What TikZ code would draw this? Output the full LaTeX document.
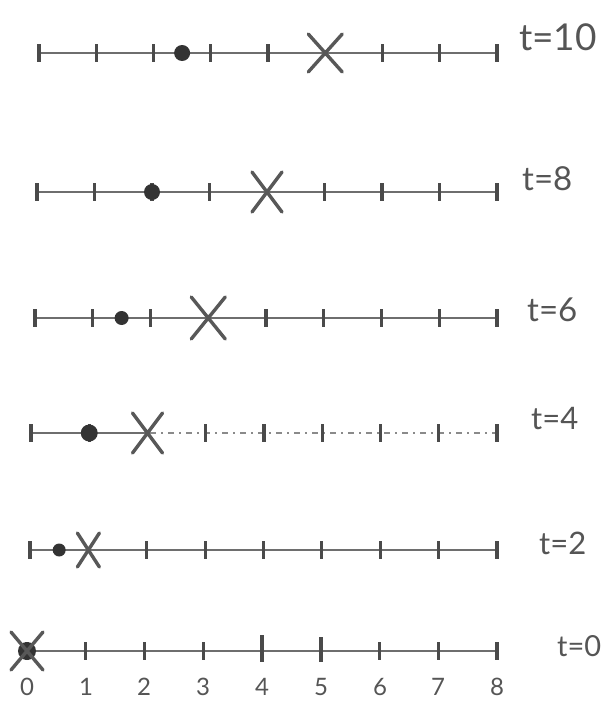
\documentclass[tikz,border=0pt]{standalone}
\usepackage{fontspec}
\setmainfont{Lato}
\definecolor{inkline}{HTML}{6E6E6E}
\definecolor{inkfaint}{HTML}{8A8A8A}
\definecolor{inktick}{HTML}{4A4A4A}
\definecolor{inkx}{HTML}{585858}
\definecolor{inkdot}{HTML}{333333}
\definecolor{inktext}{HTML}{555555}
\newcommand\rowmarks[8]{% #1 y, #2 x0, #3 dot u, #4 X u, #5 skipped tick, #6 X half w, #7 X half h, #8 dot radius
  \pgfmathsetmacro\rsp{(497-#2)/8}
  \foreach \u in {0,...,8}{\ifnum\u=#5\relax\else
    \draw[tickmark] ({#2+\u*\rsp},#1-9) -- ({#2+\u*\rsp},#1+9);\fi}
  \fill[ball] ({#2+#3*\rsp},#1) circle (#8);
  \draw[cross] ({#2+#4*\rsp-#6},#1-#7) -- ({#2+#4*\rsp+#6},#1+#7)
               ({#2+#4*\rsp-#6},#1+#7) -- ({#2+#4*\rsp+#6},#1-#7);
}
\begin{document}
\begin{tikzpicture}[x=1pt,y=-1pt,
  axisline/.style={draw=inkline,line width=1.4pt},
  faintline/.style={draw=inkfaint,line width=1.2pt,dash pattern=on 6pt off 5pt on 2pt off 5pt},
  tickmark/.style={draw=inktick,line width=3.2pt},
  cross/.style={draw=inkx,line width=3.4pt,line cap=round},
  ball/.style={fill=inkdot},
  tlabel/.style={text=inktext,anchor=base west,inner sep=0pt},
  numlabel/.style={text=inktext,anchor=base,inner sep=0pt,font=\fontsize{24}{24}\selectfont}]
\useasboundingbox (0,0) rectangle (614,702);

% t = 10
\draw[axisline] (39,53) -- (497,53);
\rowmarks{53}{39}{2.5}{5}{5}{17}{19}{8}
\node[tlabel,font=\fontsize{37}{37}\selectfont] (l10) at (519,50) {t=10};

% t = 8
\draw[axisline] (37,192) -- (497,192);
\rowmarks{192}{37}{2}{4}{4}{15}{20}{8}
\node[tlabel,font=\fontsize{33}{33}\selectfont] (l8) at (522,190) {t=8};

% t = 6
\draw[axisline] (35,318) -- (497,318);
\rowmarks{318}{35}{1.5}{3}{3}{17}{21}{7}
\node[tlabel,font=\fontsize{33}{33}\selectfont] (l6) at (527,321) {t=6};

% t = 4
\draw[axisline] (31,433) -- (150,433);
\draw[faintline] (150,433) -- (497,433);
\rowmarks{433}{31}{1}{2}{2}{15}{20}{8.5}
\node[tlabel,font=\fontsize{31}{31}\selectfont] (l4) at (531,429) {t=4};

% t = 2
\draw[axisline] (30,550) -- (497,550);
\rowmarks{550}{30}{0.5}{1}{1}{11}{17}{6.5}
\node[tlabel,font=\fontsize{31}{31}\selectfont] (l2) at (539,554) {t=2};

% t = 0
\draw[axisline] (27,651) -- (497,651);
\rowmarks{651}{27}{0}{0}{-1}{16}{19}{9}
\draw[tickmark] (262,635) -- (262,662) (321,637) -- (321,662);
\node[tlabel,font=\fontsize{29}{29}\selectfont] (l0) at (557,656) {t=0};

% scale numbers
\foreach \n/\xx in {0/27,1/86,2/144,3/203,4/262,5/321,6/380,7/438,8/497}
  \node[numlabel] (n\n) at (\xx,695) {\n};
\end{tikzpicture}
\end{document}
